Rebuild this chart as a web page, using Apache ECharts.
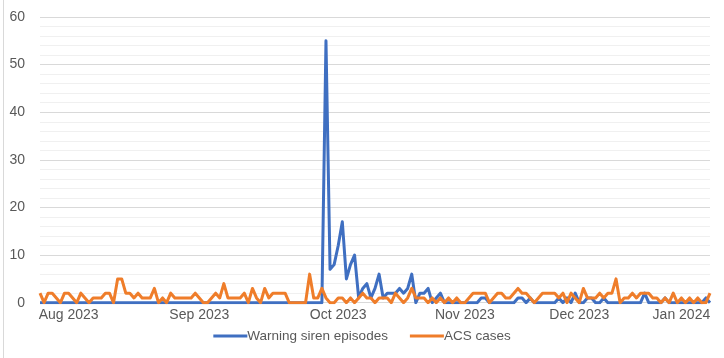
<!DOCTYPE html>
<html>
<head>
<meta charset="utf-8">
<script src="https://cdn.jsdelivr.net/npm/echarts@6/dist/echarts.min.js"></script>
<style>
html,body{margin:0;padding:0;background:#fff;}
#c{width:724px;height:358px;}
</style>
</head>
<body>
<div id="c"></div>
<script>
// Month tick labels and the category positions where they appear
const monthLabels = ["Aug 2023","Sep 2023","Oct 2023","Nov 2023","Dec 2023","Jan 2024"];
const monthLabelIndex = [7, 39, 73, 104, 132, 157];

// Warning siren episodes (daily)
const sirenEpisodes = [
  0,0,0,0,0,0,0,0,0,0,
  0,0,0,0,0,0,0,0,0,0,
  0,0,0,0,0,0,0,0,0,0,
  0,0,0,0,0,0,0,0,0,0,
  0,0,0,0,0,0,0,0,0,0,
  0,0,0,0,0,0,0,0,0,0,
  0,0,0,0,0,0,0,0,0,0,
  55,7,8,12,17,5,8,10,1,3,
  4,1,3,6,1,2,2,2,3,2,
  3,6,0,2,2,3,0,1,2,0,
  0,0,0,0,0,0,0,0,1,1,
  0,0,0,0,0,0,0,1,1,0,
  1,0,0,0,0,0,0,1,0,1,
  0,2,0,0,1,1,0,0,1,0,
  0,0,0,0,0,0,0,0,2,0,
  0,0,0,1,0,0,0,0,0,0,
  0,0,0,1,0
];

// ACS cases (daily)
const acsCases = [
  2,0,2,2,1,0,2,2,1,0,
  2,1,0,1,1,1,2,2,0,5,
  5,2,2,1,2,1,1,1,3,0,
  1,0,2,1,1,1,1,1,2,1,
  0,0,1,2,1,4,1,1,1,1,
  2,0,3,1,0,3,1,2,2,2,
  2,0,0,0,0,0,6,1,1,3,
  1,0,0,1,1,0,1,0,1,2,
  1,1,0,1,1,1,0,2,1,0,
  1,3,1,1,1,0,1,0,1,0,
  1,0,1,0,0,1,2,2,2,2,
  0,1,2,2,1,1,2,3,2,2,
  1,0,1,2,2,2,2,1,2,0,
  2,1,0,3,1,1,1,2,1,2,
  2,5,0,1,1,2,1,2,2,2,
  1,1,0,1,0,2,0,1,0,1,
  0,1,0,0,2
];

const yTicks = {min: 0, max: 60, interval: 10};

const categories = sirenEpisodes.map(function (_, i) {
  const k = monthLabelIndex.indexOf(i);
  return k >= 0 ? monthLabels[k] : String(i);
});

const chart = echarts.init(document.getElementById('c'), null, {renderer: 'canvas'});
chart.setOption({
  animation: false,
  backgroundColor: '#ffffff',
  textStyle: {fontFamily: 'Liberation Sans, Arial, sans-serif'},
  graphic: [{
    type: 'line',
    shape: {x1: 3.5, y1: 0, x2: 3.5, y2: 358},
    style: {stroke: '#d9d9d9', lineWidth: 1}
  }],
  grid: {left: 40, right: 14, top: 17, bottom: 55.3, containLabel: false},
  legend: {
    data: ['Warning siren episodes', 'ACS cases'],
    bottom: 10,
    left: 'center',
    icon: 'rect',
    itemWidth: 34,
    itemHeight: 3,
    itemGap: 22,
    textStyle: {color: '#595959', fontSize: 13.5, padding: [0, 0, 0, -5]}
  },
  xAxis: {
    type: 'category',
    data: categories,
    boundaryGap: false,
    axisLine: {show: false},
    axisTick: {show: false},
    splitLine: {show: false},
    axisLabel: {
      interval: function (i) { return monthLabelIndex.indexOf(i) >= 0; },
      color: '#595959',
      fontSize: 14,
      margin: 5
    }
  },
  yAxis: {
    type: 'value',
    min: yTicks.min,
    max: yTicks.max,
    interval: yTicks.interval,
    axisLine: {show: false},
    axisTick: {show: false},
    axisLabel: {color: '#595959', fontSize: 14, margin: 15},
    splitLine: {lineStyle: {color: '#d9d9d9', width: 1}},
    minorTick: {show: false, splitNumber: 5},
    minorSplitLine: {show: true, lineStyle: {color: '#f0f0f0', width: 1}}
  },
  series: [
    {
      name: 'Warning siren episodes',
      type: 'line',
      data: sirenEpisodes,
      showSymbol: false,
      color: '#3f6fc1',
      lineStyle: {width: 3, color: '#3f6fc1', join: 'round'}
    },
    {
      name: 'ACS cases',
      type: 'line',
      data: acsCases,
      showSymbol: false,
      color: '#ef7d2a',
      lineStyle: {width: 3, color: '#ef7d2a', join: 'round'}
    }
  ]
});
</script>
</body>
</html>
